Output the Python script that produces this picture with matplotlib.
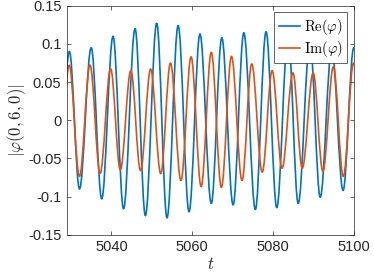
import numpy as np
import matplotlib
matplotlib.use("Agg")
import matplotlib.pyplot as plt
from matplotlib.path import Path
from matplotlib.patches import PathPatch
from matplotlib.lines import Line2D

plt.rcParams['font.family'] = ['Liberation Sans', 'DejaVu Sans']
plt.rcParams['mathtext.fontset'] = 'cm'
plt.rcParams['axes.unicode_minus'] = False

# extrema (time, value) of Re(phi), in time order
re_t = [5026.9, 5029.6, 5032.1, 5035.0, 5037.6, 5040.4, 5043.0, 5045.85, 5048.4,
        5051.2, 5053.75, 5056.5, 5059.2, 5061.9, 5064.7, 5067.3, 5070.1, 5072.75,
        5075.6, 5078.25, 5080.9, 5083.7, 5086.2, 5089.1, 5091.65, 5094.5, 5097.3,
        5099.95, 5102.6]
re_v = [-0.085, 0.090, -0.090, 0.095, -0.103, 0.110, -0.116, 0.120, -0.125,
        0.127, -0.128, 0.124, -0.120, 0.113, -0.109, 0.108, -0.111, 0.1145,
        -0.117, 0.116, -0.1145, 0.112, -0.109, 0.103, -0.101, 0.094, -0.092,
        0.095, -0.09]

# extrema (time, value) of Im(phi)
im_t = [5027.0, 5029.55, 5032.1, 5034.7, 5037.2, 5039.8, 5042.2, 5044.8, 5047.2,
        5049.7, 5052.2, 5054.6, 5057.2, 5059.7, 5062.2, 5064.7, 5067.2, 5069.7,
        5072.3, 5074.7, 5077.3, 5079.75, 5082.2, 5084.9, 5087.2, 5089.9, 5092.3,
        5094.9, 5097.35, 5099.9, 5102.4]
im_v = [-0.074, 0.072, -0.0737, 0.0723, -0.0697, 0.0675, -0.065, 0.065, -0.066,
        0.067, -0.070, 0.075, -0.079, 0.083, -0.087, 0.089, -0.088, 0.0837,
        -0.079, 0.0737, -0.068, 0.065, -0.063, 0.062, -0.063, 0.062, -0.067,
        0.070, -0.0737, 0.075, -0.074]

x_ticks = [5040, 5060, 5080, 5100]
y_ticks = [-0.15, -0.1, -0.05, 0, 0.05, 0.1, 0.15]
y_tick_labels = ['-0.15', '-0.1', '-0.05', '0', '0.05', '0.1', '0.15']

BLUE = '#0072BD'
ORANGE = '#D95319'


def wave_path(ts, vs, k=0.36):
    # smooth curve through the extrema, flat at each turning point
    verts = [(ts[0], vs[0])]
    codes = [Path.MOVETO]
    for t0, v0, t1, v1 in zip(ts[:-1], vs[:-1], ts[1:], vs[1:]):
        d = (t1 - t0) * k
        verts += [(t0 + d, v0), (t1 - d, v1), (t1, v1)]
        codes += [Path.CURVE4] * 3
    return Path(verts, codes)


fig = plt.figure(figsize=(3.74, 2.76), dpi=100)
ax = fig.add_axes([0.179, 0.1496, 0.7675, 0.8297])

for ts, vs, c in [(re_t, re_v, BLUE), (im_t, im_v, ORANGE)]:
    ax.add_patch(PathPatch(wave_path(ts, vs), fill=False, edgecolor=c, lw=1.2,
                           capstyle='round', joinstyle='round'))

ax.set_xlim(5029, 5100)
ax.set_ylim(-0.15, 0.15)
ax.set_xticks(x_ticks)
ax.set_xticklabels([str(x) for x in x_ticks])
ax.set_yticks(y_ticks)
ax.set_yticklabels(y_tick_labels)

ax.tick_params(direction='in', length=3, width=0.5, colors='0.15', labelsize=10.5,
               top=True, right=True, pad=4)
for s in ax.spines.values():
    s.set_color('0.15')
    s.set_linewidth(0.5)

ax.set_xlabel(r'$t$', fontsize=12, color='0.15', labelpad=1)
ax.set_ylabel(r'$|\varphi(0,6,0)|$', fontsize=12, color='0.15', labelpad=0)

handles = [Line2D([], [], color=BLUE, lw=1.2), Line2D([], [], color=ORANGE, lw=1.2)]
leg = ax.legend(handles, [r'$\mathrm{Re}(\varphi)$', r'$\mathrm{Im}(\varphi)$'],
                loc='upper right', fontsize=10.5, fancybox=False, framealpha=1,
                edgecolor='0.15', handlelength=1.45, handletextpad=0.3,
                borderpad=0.3, labelspacing=0.15, borderaxespad=0.45)
leg.get_frame().set_linewidth(0.5)

fig.savefig('out.png', dpi=100)
